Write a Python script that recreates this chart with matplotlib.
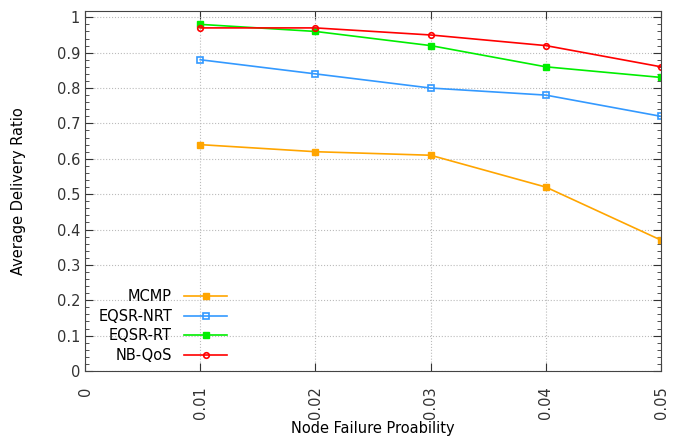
import matplotlib.pyplot as plt
import numpy as np
from matplotlib.ticker import MultipleLocator

# data
failure_prob = [0.01, 0.02, 0.03, 0.04, 0.05]
mcmp = [0.64, 0.62, 0.61, 0.52, 0.37]
eqsr_nrt = [0.88, 0.84, 0.80, 0.78, 0.72]
eqsr_rt = [0.98, 0.96, 0.92, 0.86, 0.83]
nb_qos = [0.97, 0.97, 0.95, 0.92, 0.86]

fig = plt.figure(figsize=(6.77, 4.37), dpi=100)
ax = fig.add_axes([0.1256, 0.151, 0.8508, 0.824])

ax.plot(failure_prob, mcmp, color='#FFA500', marker='s', ms=4, lw=1.2, label='MCMP')
ax.plot(failure_prob, eqsr_nrt, color='#3399FF', marker='s', ms=4, mfc='none', mew=1.2, lw=1.2, label='EQSR-NRT')
ax.plot(failure_prob, eqsr_rt, color='#00EE00', marker='s', ms=4, lw=1.2, label='EQSR-RT')
ax.plot(failure_prob, nb_qos, color='#FF0000', marker='o', ms=4, mfc='none', mew=1.2, lw=1.2, label='NB-QoS')

ax.set_xlim(0, 0.05)
ax.set_ylim(0, 1.018)
ax.set_xticks([0, 0.01, 0.02, 0.03, 0.04, 0.05])
ax.set_xticklabels(['0', '0.01', '0.02', '0.03', '0.04', '0.05'], rotation=90)
ax.set_yticks(np.arange(0, 1.01, 0.1))
ax.set_yticklabels(['0', '0.1', '0.2', '0.3', '0.4', '0.5', '0.6', '0.7', '0.8', '0.9', '1'])
ax.yaxis.set_minor_locator(MultipleLocator(0.02))
ax.tick_params(which='both', direction='in', top=True, right=True, labelsize=10.5, colors='#333333')
ax.tick_params(which='major', length=6)
ax.tick_params(which='minor', length=3)
ax.tick_params(axis='x', pad=11)
for s in ax.spines.values():
    s.set_color('#444444')
ax.grid(True, which='major', linestyle=':', color='#bbbbbb', lw=0.8)

ax.set_ylabel('Average Delivery Ratio', fontsize=10.5, labelpad=22)
ax.set_xlabel('Node Failure Proability', fontsize=10.5)
ax.xaxis.set_label_coords(0.5, -0.138)

ax.legend(loc='lower left', bbox_to_anchor=(0.0, -0.015), frameon=False, markerfirst=False,
          fontsize=10.5, handlelength=3.0, labelspacing=0.33)

fig.savefig('out.png', dpi=100)
